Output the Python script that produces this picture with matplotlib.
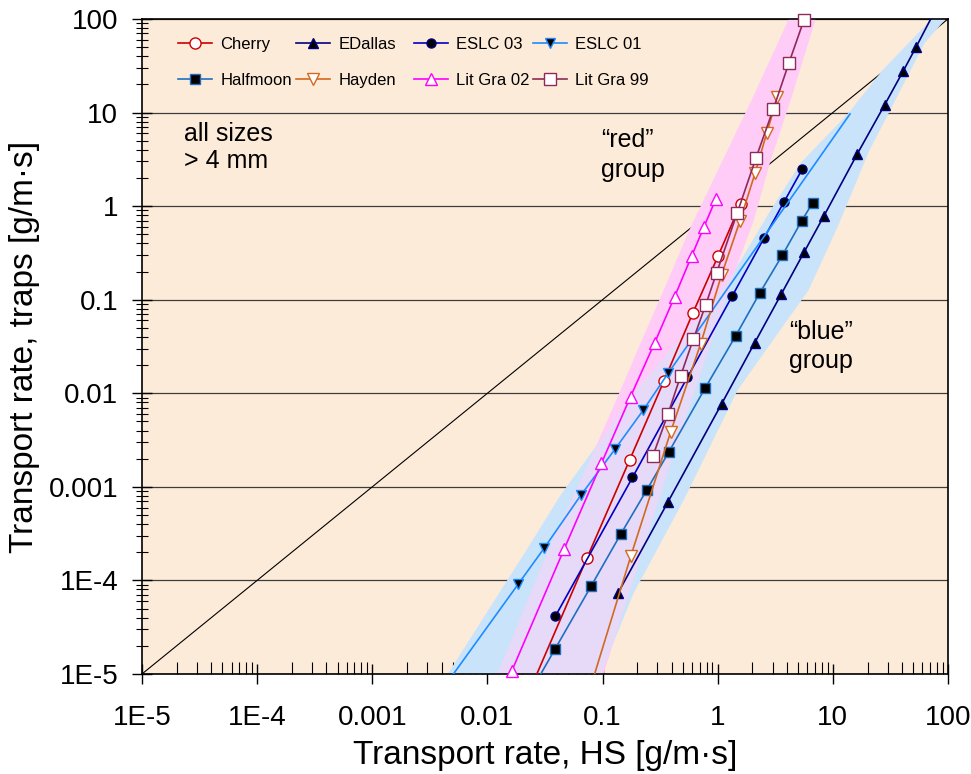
import matplotlib
matplotlib.use('Agg')
import matplotlib.pyplot as plt
from matplotlib.patches import Polygon
from matplotlib.ticker import LogLocator, NullFormatter

plt.rcParams['font.family'] = ['Liberation Sans', 'DejaVu Sans']

# transport rates: x = HS sampler, y = traps (g/m.s)
cherry_x = [1.58, 1.01, 0.607, 0.342, 0.172, 0.0733, 0.0215]
cherry_y = [1.05, 0.295, 0.0716, 0.0136, 0.00194, 1.74e-4, 5.3e-6]

edallas_x = [95, 52.7, 41.0, 28.2, 16.3, 8.39, 5.62, 3.57, 2.10, 1.08, 0.370, 0.136]
edallas_y = [200, 49.8, 28.0, 12.1, 3.61, 0.79, 0.321, 0.115, 0.0348, 0.00768, 6.9e-4, 7.3e-5]

eslc03_x = [5.44, 3.77, 2.52, 1.34, 0.546, 0.182, 0.0389]
eslc03_y = [2.50, 1.11, 0.453, 0.110, 0.0148, 0.00126, 4.14e-5]

eslc01_x = [14.1, 0.37, 0.226, 0.128, 0.0646, 0.031, 0.0186, 0.0039]
eslc01_y = [9.66, 0.0163, 0.00662, 0.00252, 8.1e-4, 2.2e-4, 9.2e-5, 6.4e-6]

halfmoon_x = [6.69, 5.36, 3.65, 2.33, 1.43, 0.776, 0.378, 0.242, 0.144, 0.080, 0.0386, 0.019]
halfmoon_y = [1.09, 0.694, 0.30, 0.119, 0.0409, 0.0113, 0.00238, 9.25e-4, 3.13e-4, 8.8e-5, 1.84e-5, 4e-6]

hayden_x = [3.30, 2.67, 2.11, 1.56, 1.08, 0.711, 0.391, 0.176, 0.0728]
hayden_y = [14.5, 6.09, 2.24, 0.694, 0.184, 0.0337, 0.00389, 1.82e-4, 5.3e-6]

litgra02_x = [0.96, 0.76, 0.594, 0.423, 0.284, 0.175, 0.0977, 0.0463, 0.0163]
litgra02_y = [1.18, 0.60, 0.293, 0.108, 0.0348, 0.0092, 0.00178, 2.15e-4, 1.08e-5]

litgra99_x = [5.62, 4.16, 3.05, 2.15, 1.48, 0.98, 0.787, 0.615, 0.477, 0.370, 0.274]
litgra99_y = [98, 34, 11.0, 3.27, 0.85, 0.195, 0.088, 0.038, 0.0154, 0.0060, 0.00215]

# shaded envelopes of the two groups (outline, going round)
blue_band_x = [0.00452, 0.0224, 0.0433, 0.214, 0.711, 1.30, 2.89, 5.26, 13.7, 27.1, 72.2,
               95.5, 62.8, 20.5, 11.0, 6.17, 1.49, 0.507, 0.186, 0.0964]
blue_band_y = [1e-5, 2.22e-4, 8.2e-4, 0.0123, 0.0687, 0.175, 0.91, 2.89, 9.9, 28.5, 100,
               100, 55.5, 3.79, 0.599, 0.127, 0.0108, 7.2e-4, 7.3e-5, 1e-5]
red_band_x = [0.01228, 0.0341, 0.0758, 0.135, 0.214, 0.320, 0.583, 1.97, 4.14,
              7.10, 4.31, 2.89, 2.05, 1.38, 0.870, 0.477, 0.214, 0.102]
red_band_y = [1e-5, 2.17e-4, 0.0018, 0.00912, 0.0344, 0.107, 0.599, 13.6, 100,
              100, 13.6, 3.11, 0.694, 0.184, 0.0336, 0.00386, 1.82e-4, 1e-5]

decades = [1e-5, 1e-4, 1e-3, 1e-2, 1e-1, 1, 10, 100]
tick_labels = ['1E-5', '1E-4', '0.001', '0.01', '0.1', '1', '10', '100']

fig = plt.figure(figsize=(9.71, 7.74), dpi=100)
ax = fig.add_axes([0.1462, 0.1292, 0.8301, 0.8463])
ax.set_facecolor('#FDEBD9')
ax.set_xscale('log')
ax.set_yscale('log')

# 1:1 line, hidden under the bands
ax.plot([decades[0], decades[-1]], [decades[0], decades[-1]], color='black', lw=0.8, zorder=1.6)

blue_poly = Polygon(list(zip(blue_band_x, blue_band_y)), closed=True, facecolor='#C9E4FA',
                    edgecolor='none', zorder=2)
red_poly = Polygon(list(zip(red_band_x, red_band_y)), closed=True, facecolor='#FFCCF8',
                   edgecolor='none', zorder=2.1)
ax.add_patch(blue_poly)
ax.add_patch(red_poly)
overlap = Polygon(list(zip(red_band_x, red_band_y)), closed=True, facecolor='#E6DAF8',
                  edgecolor='none', zorder=2.2)
ax.add_patch(overlap)
overlap.set_clip_path(blue_poly)

series = [
    ('Cherry', cherry_x, cherry_y, '#CC0000', 'o', 'white', '#CC0000', 8, None),
    ('EDallas', edallas_x, edallas_y, '#000080', '^', 'black', '#000080', 7, None),
    ('ESLC 03', eslc03_x, eslc03_y, '#0000C0', 'o', 'black', '#000080', 6.5, None),
    ('ESLC 01', eslc01_x, eslc01_y, '#1E8CFF', 'v', 'black', '#1E8CFF', 6.5, list(range(1, 7))),
    ('Halfmoon', halfmoon_x, halfmoon_y, '#1F6FC0', 's', 'black', '#1F6FC0', 6.5, None),
    ('Hayden', hayden_x, hayden_y, '#D2691E', 'v', 'white', '#D2691E', 8.5, None),
    ('Lit Gra 02', litgra02_x, litgra02_y, '#FF00FF', '^', 'white', '#FF00FF', 9, None),
    ('Lit Gra 99', litgra99_x, litgra99_y, '#8E2A5A', 's', 'white', '#8E2A5A', 8.5, None),
]
handles = {}
for i, (name, xs, ys, col, mk, fc, ec, ms, every) in enumerate(series):
    clip = name not in ('Lit Gra 02', 'Lit Gra 99')
    ln, = ax.plot(xs, ys, color=col, lw=1.2, marker=mk, markerfacecolor=fc,
                  markeredgecolor=ec, markersize=ms, markeredgewidth=1.0,
                  markevery=every, label=name, zorder=4 + i * 0.1, clip_on=clip)
    handles[name] = ln

ax.set_xlim(decades[0], decades[-1])
ax.set_ylim(decades[0], decades[-1])
ax.set_xticks(decades)
ax.set_xticklabels(tick_labels)
ax.set_yticks(decades)
ax.set_yticklabels(tick_labels)
for axis in (ax.xaxis, ax.yaxis):
    axis.set_minor_locator(LogLocator(base=10, subs=range(2, 10), numticks=20))
    axis.set_minor_formatter(NullFormatter())

ax.tick_params(axis='x', which='major', direction='inout', length=14, width=1, pad=15, labelsize=20)
ax.tick_params(axis='x', which='minor', direction='in', length=9, width=0.8)
ax.tick_params(axis='y', which='major', direction='inout', length=14, width=1, pad=10, labelsize=20)
ax.tick_params(axis='y', which='minor', direction='inout', length=9, width=0.8)
ax.yaxis.grid(True, which='major', color='#3C3C3C', lw=0.9)
ax.xaxis.grid(False)
for sp in ax.spines.values():
    sp.set_color('black')
    sp.set_linewidth(1.2)

ax.set_xlabel('Transport rate, HS [g/m\u00b7s]', fontsize=24, labelpad=7)
ax.set_ylabel('Transport rate, traps [g/m\u00b7s]', fontsize=24, labelpad=6)

ax.text(2.3e-5, 8.0, 'all sizes\n> 4 mm', fontsize=18, ha='left', va='top', linespacing=1.18)
ax.text(0.0964, 6.8, '\u201cred\u201d\ngroup', fontsize=18, ha='left', va='top', linespacing=1.3)
ax.text(4.14, 0.061, '\u201cblue\u201d\ngroup', fontsize=18, ha='left', va='top', linespacing=1.3)

# legend as 4 columns of 2, like the spreadsheet layout
columns = [('Cherry', 'Halfmoon'), ('EDallas', 'Hayden'), ('ESLC 03', 'Lit Gra 02'), ('ESLC 01', 'Lit Gra 99')]
col_left = [0.0447, 0.191, 0.3375, 0.485]
for k, (names, xl) in enumerate(zip(columns, col_left)):
    leg = ax.legend([handles[n] for n in names], list(names), loc='upper left',
                    bbox_to_anchor=(xl, 0.973), frameon=False, fontsize=12,
                    handlelength=2.05, handletextpad=0.5, labelspacing=1.27,
                    borderpad=0, borderaxespad=0, markerscale=1.0)
    leg.set_zorder(6)
    if k < len(columns) - 1:
        ax.add_artist(leg)

fig.savefig('out.png', dpi=100, facecolor='white')
